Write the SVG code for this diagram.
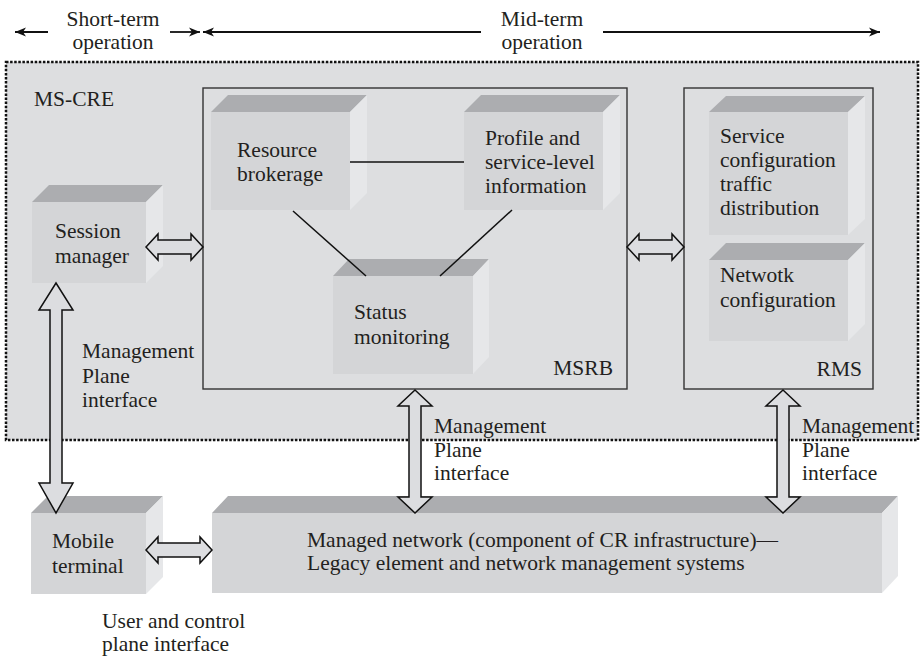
<svg xmlns="http://www.w3.org/2000/svg" width="922" height="657" viewBox="0 0 922 657" font-family="'Liberation Serif', 'Times New Roman', Times, serif">
<style>
text{font-family:'Liberation Serif','Times New Roman',Times,serif;font-size:21.5px;fill:#231f20}
.front{fill:#d4d5d7}
.top{fill:#acadb0}
.side{fill:#e6e7e9}
.frame{fill:none;stroke:#333;stroke-width:1.4}
.dbl{fill:#dcdde0;stroke:#111;stroke-width:1.5;stroke-linejoin:miter}
.ln{stroke:#111;stroke-width:1.5;fill:none}
.hdr{stroke:#111;stroke-width:1.8;fill:none}
</style>
<defs>
<marker id="ah" markerWidth="12" markerHeight="10" refX="11" refY="5" orient="auto" markerUnits="userSpaceOnUse">
<path d="M0,0.5 L11,5 L0,9.5 L3,5 z" fill="#111"/>
</marker>
</defs>
<rect width="922" height="657" fill="#ffffff"/>
<g id="header">
<text x="113" y="26" text-anchor="middle">Short-term</text>
<text x="113" y="49" text-anchor="middle">operation</text>
<text x="542" y="26" text-anchor="middle">Mid-term</text>
<text x="542" y="49" text-anchor="middle">operation</text>
</g>
<g id="ms-cre">
<rect x="6" y="62" width="912" height="378" fill="#dddee0" stroke="#111" stroke-width="2.5" stroke-dasharray="2.5 1.6"/>
<text x="34" y="106">MS-CRE</text>
</g>
<g id="msrb">
<rect class="frame" x="203" y="88" width="424" height="301"/>
<text x="613" y="375" text-anchor="end">MSRB</text>
</g>
<g id="rms">
<rect class="frame" x="684" y="88" width="189" height="301"/>
<text x="862" y="376" text-anchor="end">RMS</text>
</g>
<g id="session-manager">
<polygon class="top" points="32,202 146,202 163,185 49,185"/>
<polygon class="side" points="146,202 163,185 163,266 146,283"/>
<rect class="front" x="32" y="202" width="114" height="81"/>
<text x="55" y="238">Session</text>
<text x="55" y="263">manager</text>
</g>
<g id="resource-brokerage">
<polygon class="top" points="211,112 350,112 367,95 228,95"/>
<polygon class="side" points="350,112 367,95 367,193 350,210"/>
<rect class="front" x="211" y="112" width="139" height="98"/>
<text x="237" y="157">Resource</text>
<text x="237" y="181">brokerage</text>
</g>
<g id="profile">
<polygon class="top" points="464,112 603,112 620,95 481,95"/>
<polygon class="side" points="603,112 620,95 620,193 603,210"/>
<rect class="front" x="464" y="112" width="139" height="98"/>
<text x="485" y="145">Profile and</text>
<text x="485" y="169">service-level</text>
<text x="485" y="193">information</text>
</g>
<g id="status-monitoring">
<polygon class="top" points="333,276 473,276 489,259 349,259"/>
<polygon class="side" points="473,276 489,259 489,357 473,374"/>
<rect class="front" x="333" y="276" width="140" height="98"/>
<text x="354" y="319">Status</text>
<text x="354" y="344">monitoring</text>
</g>
<g id="service-config">
<polygon class="top" points="709,112 848,112 865,96 726,96"/>
<polygon class="side" points="848,112 865,96 865,219 848,235"/>
<rect class="front" x="709" y="112" width="139" height="123"/>
<text x="720" y="143">Service</text>
<text x="720" y="167">configuration</text>
<text x="720" y="191">traffic</text>
<text x="720" y="215">distribution</text>
</g>
<g id="network-config">
<polygon class="top" points="709,260 848,260 865,243 726,243"/>
<polygon class="side" points="848,260 865,243 865,324 848,341"/>
<rect class="front" x="709" y="260" width="139" height="81"/>
<text x="720" y="282">Netwotk</text>
<text x="720" y="307">configuration</text>
</g>
<g id="mobile-terminal">
<polygon class="top" points="31,513 146,513 163,496 48,496"/>
<polygon class="side" points="146,513 163,496 163,577 146,594"/>
<rect class="front" x="31" y="513" width="115" height="81"/>
<text x="52" y="548">Mobile</text>
<text x="52" y="573">terminal</text>
</g>
<g id="managed-network">
<polygon class="top" points="212,513 882,513 898,496 228,496"/>
<polygon class="side" points="882,513 898,496 898,576 882,593"/>
<rect class="front" x="212" y="513" width="670" height="80"/>
<text x="307" y="547">Managed network (component of CR infrastructure)—</text>
<text x="307" y="570">Legacy element and network management systems</text>
</g>
<g id="labels">
<text x="82" y="358">Management</text>
<text x="82" y="383">Plane</text>
<text x="82" y="407">interface</text>
<text x="434" y="433">Management</text>
<text x="434" y="457">Plane</text>
<text x="434" y="480">interface</text>
<text x="802" y="433">Management</text>
<text x="802" y="457">Plane</text>
<text x="802" y="480">interface</text>
<text x="102" y="628">User and control</text>
<text x="102" y="651">plane interface</text>
</g>
<g id="connectors">
<line class="hdr" x1="48" y1="32" x2="15" y2="32" marker-end="url(#ah)"/>
<line class="hdr" x1="170" y1="32" x2="200" y2="32" marker-end="url(#ah)"/>
<line class="hdr" x1="481" y1="32" x2="203" y2="32" marker-end="url(#ah)"/>
<line class="hdr" x1="603" y1="32" x2="880" y2="32" marker-end="url(#ah)"/>
<line class="ln" x1="350" y1="162" x2="464" y2="162"/>
<line class="ln" x1="293" y1="211" x2="366" y2="276"/>
<line class="ln" x1="512" y1="210" x2="440" y2="276"/>
<polygon class="dbl" points="146,247 158,234 158,240 191,240 191,234 203,247 191,260 191,254 158,254 158,260"/>
<polygon class="dbl" points="627,247 639,234 639,240 672,240 672,234 684,247 672,260 672,254 639,254 639,260"/>
<polygon class="dbl" points="146,550 158,537 158,543 200,543 200,537 212,550 200,563 200,557 158,557 158,563"/>
<polygon class="dbl" points="415,390 432,406 421,406 421,497 432,497 415,513 398,497 409,497 409,406 398,406"/>
<polygon class="dbl" points="783,390 800,406 789,406 789,497 800,497 783,513 766,497 777,497 777,406 766,406"/>
<polygon class="dbl" points="56,283 73,310 62,310 62,483 73,483 56,513 39,483 50,483 50,310 39,310"/>
</g>
</svg>
